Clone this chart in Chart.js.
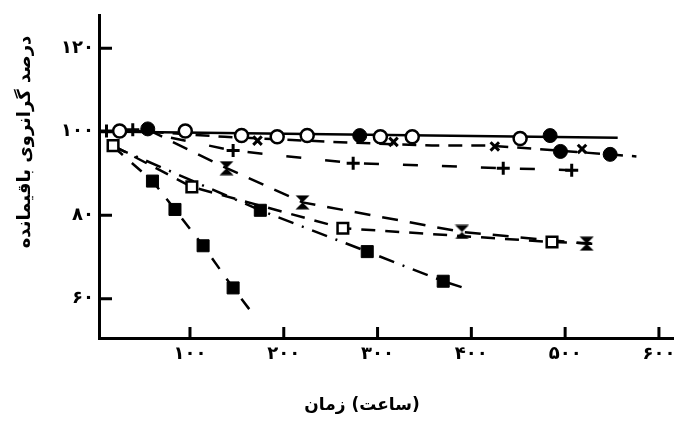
<!DOCTYPE html>
<html><head><meta charset="utf-8">
<script src="https://cdn.jsdelivr.net/npm/chart.js@4.4.1/dist/chart.umd.min.js"></script>
<style>html,body{margin:0;padding:0;background:#fff;}#wrap{width:686px;height:430px;}</style>
</head><body><div id="wrap"><canvas id="c" width="686" height="430"></canvas></div>
<script>
// ---- tick values and labels ----
const xTicks = [100, 200, 300, 400, 500, 600];
const xTickLabels = ['۱۰۰', '۲۰۰', '۳۰۰', '۴۰۰', '۵۰۰', '۶۰۰'];
const yTicks = [60, 80, 100, 120];
const yTickLabels = ['۶۰', '۸۰', '۱۰۰', '۱۲۰'];
const xTitle = 'زمان\u200E (\u200Eساعت\u200E)';
const yTitle = 'درصد گرانروی باقیمانده';

// ---- marker series (time in hours, % remaining viscosity) ----
const openCircleX = [25, 95, 155, 193, 225, 303, 337, 452];
const openCircleY = [100.2, 100.2, 99.1, 98.8, 99.1, 98.8, 98.8, 98.4];
const filledCircleX = [55, 281, 484, 495, 548];
const filledCircleY = [100.7, 99.1, 99.1, 95.3, 94.6];
const plusX = [11, 39, 146, 274, 434, 507];
const plusY = [100.2, 100.5, 95.5, 92.5, 91.3, 90.8];
const smallCrossX = [172, 317, 425, 518];
const smallCrossY = [97.9, 97.6, 96.5, 95.9];
const hourglassX = [139, 220, 390, 523];
const hourglassY = [91.3, 83.1, 76.0, 73.2];
const openSquareX = [18, 102, 263, 486];
const openSquareY = [96.7, 86.8, 76.9, 73.6];
const filledSquareFX = [175, 289, 370];
const filledSquareFY = [81.2, 71.3, 64.2];
const filledSquareGX = [60, 84, 114, 146];
const filledSquareGY = [88.2, 81.4, 72.7, 62.6];

// ---- fitted curves ----
const lineAX = [3, 556];
const lineAY = [100.1, 98.6];
const lineBX = [57, 137, 251, 358, 420, 494, 576];
const lineBY = [100, 98.8, 97.6, 96.7, 96.7, 95.5, 94.1];
const lineCX = [39, 146, 274, 434, 507];
const lineCY = [100.5, 95.5, 92.5, 91.3, 90.8];
const lineDX = [55, 139, 220, 390, 523, 537];
const lineDY = [100.5, 91.3, 83.1, 76.0, 73.2, 73.1];
const lineEX = [18, 102, 263, 486, 530];
const lineEY = [96.7, 86.8, 76.9, 73.6, 73.3];
const lineFX = [18, 175, 289, 370, 395];
const lineFY = [96.5, 81.2, 71.3, 64.2, 62.4];
const lineGX = [18, 60, 84, 114, 146, 169];
const lineGY = [96.5, 88.2, 81.4, 72.7, 62.6, 55.8];

const pts = (xs, ys) => xs.map((x, i) => ({x, y: ys[i]}));

function hourglass() {
  const c = document.createElement('canvas');
  c.width = 15; c.height = 15;
  const g = c.getContext('2d');
  g.fillStyle = '#000';
  g.beginPath(); g.moveTo(0.5, 0.5); g.lineTo(14.5, 0.5); g.lineTo(7.5, 7.5); g.closePath(); g.fill();
  g.beginPath(); g.moveTo(0.5, 14.5); g.lineTo(14.5, 14.5); g.lineTo(7.5, 7.5); g.closePath(); g.fill();
  return c;
}

const FONT = 'DejaVu Sans';
const markerBase = {showLine: false, borderColor: '#000', clip: false};
const lineBase = {showLine: true, borderColor: '#000', borderWidth: 2.5, pointRadius: 0, fill: false, tension: 0};

const datasets = [
  {...markerBase, data: pts(openCircleX, openCircleY), pointStyle: 'circle', pointRadius: 6.5, pointBackgroundColor: '#fff', pointBorderWidth: 2.5},
  {...markerBase, data: pts(filledCircleX, filledCircleY), pointStyle: 'circle', pointRadius: 7, pointBackgroundColor: '#000', pointBorderWidth: 1},
  {...markerBase, data: pts(plusX, plusY), pointStyle: 'cross', pointRadius: 6.5, pointBorderWidth: 3},
  {...markerBase, data: pts(smallCrossX, smallCrossY), pointStyle: 'crossRot', pointRadius: 6, pointBorderWidth: 3},
  {...markerBase, data: pts(hourglassX, hourglassY), pointStyle: hourglass()},
  {...markerBase, data: pts(openSquareX, openSquareY), pointStyle: 'rect', pointRadius: 7.5, pointBackgroundColor: '#fff', pointBorderWidth: 2.5},
  {...markerBase, data: pts(filledSquareFX, filledSquareFY), pointStyle: 'rect', pointRadius: 8.5, pointBackgroundColor: '#000', pointBorderWidth: 1},
  {...markerBase, data: pts(filledSquareGX, filledSquareGY), pointStyle: 'rect', pointRadius: 8.5, pointBackgroundColor: '#000', pointBorderWidth: 1},
  {...lineBase, data: pts(lineAX, lineAY)},
  {...lineBase, data: pts(lineBX, lineBY), borderDash: [14, 9]},
  {...lineBase, data: pts(lineCX, lineCY), borderDash: [15, 24]},
  {...lineBase, data: pts(lineDX, lineDY), borderDash: [16, 12]},
  {...lineBase, data: pts(lineEX, lineEY), borderDash: [14, 10]},
  {...lineBase, data: pts(lineFX, lineFY), borderDash: [16, 9, 2, 9]},
  {...lineBase, data: pts(lineGX, lineGY), borderDash: [13, 12]}
];

const tickPlugin = {
  id: 'inwardTicks',
  beforeDatasetsDraw(chart) {
    const {ctx, chartArea: a, scales: {x, y}} = chart;
    ctx.save();
    ctx.strokeStyle = '#000'; ctx.lineWidth = 3; ctx.beginPath();
    x.ticks.forEach(t => { const p = x.getPixelForValue(t.value); ctx.moveTo(p, a.bottom); ctx.lineTo(p, a.bottom - 11); });
    y.ticks.forEach(t => { const p = y.getPixelForValue(t.value); ctx.moveTo(a.left, p); ctx.lineTo(a.left + 13, p); });
    ctx.stroke(); ctx.restore();
  },
  afterDraw(chart) {
    const {ctx} = chart;
    ctx.save();
    ctx.fillStyle = '#000';
    ctx.font = 'bold 17px "' + FONT + '"';
    ctx.textAlign = 'center'; ctx.textBaseline = 'middle';
    ctx.fillText(xTitle, 362, 406);
    ctx.font = 'bold 18px "' + FONT + '"';
    ctx.translate(25, 142); ctx.rotate(-Math.PI / 2);
    ctx.fillText(yTitle, 0, 0);
    ctx.restore();
  }
};

new Chart(document.getElementById('c'), {
  type: 'line',
  data: {datasets},
  plugins: [tickPlugin],
  options: {
    responsive: false, animation: false, devicePixelRatio: 1,
    layout: {padding: {top: 10, right: 13, left: 0, bottom: 0}},
    plugins: {legend: {display: false}, tooltip: {enabled: false}},
    scales: {
      x: {
        type: 'linear', min: 3, max: 615,
        afterFit(s) { s.height = 92; },
        afterBuildTicks(s) { s.ticks = xTicks.map(v => ({value: v})); },
        ticks: {callback: (v, i) => xTickLabels[i], color: '#000', padding: 6, maxRotation: 0, autoSkip: false,
                font: {family: FONT, size: 18, weight: 'bold'}},
        grid: {display: false, drawTicks: false},
        border: {display: true, color: '#000', width: 3}
      },
      y: {
        type: 'linear', min: 50.6, max: 127.8,
        afterFit(s) { s.width = 99; },
        afterBuildTicks(s) { s.ticks = yTicks.map(v => ({value: v})); },
        ticks: {callback: (v, i) => yTickLabels[i], color: '#000', padding: 5, autoSkip: false,
                font: {family: FONT, size: 18, weight: 'bold'}},
        grid: {display: false, drawTicks: false},
        border: {display: true, color: '#000', width: 3}
      }
    }
  }
});
</script></body></html>
